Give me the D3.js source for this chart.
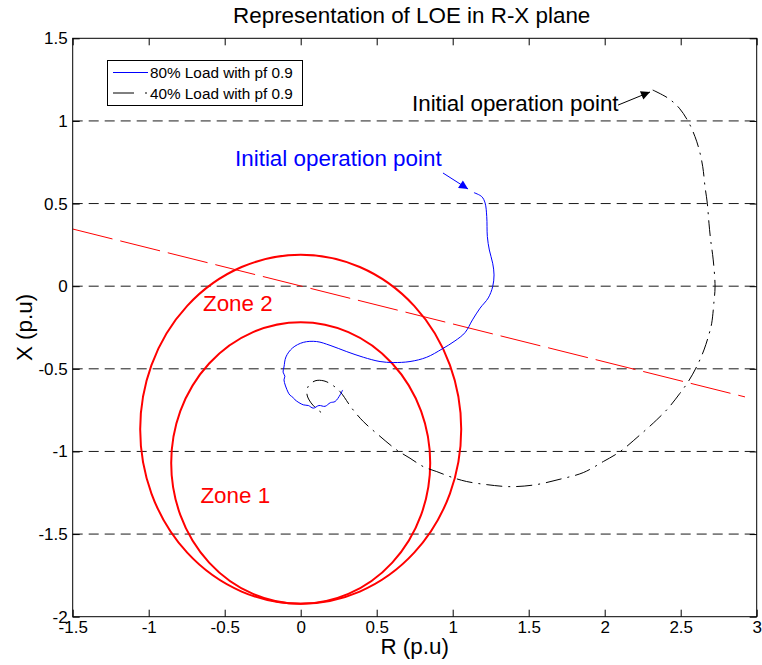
<!DOCTYPE html>
<html lang="en">
<head>
<meta charset="UTF-8">
<title>Representation of LOE in R-X plane</title>
<script src="https://d3js.org/d3.v7.min.js"></script>
<style>
    body { margin: 0; background: #fff; }
    svg text { font-family: 'Liberation Sans', Arial, sans-serif; }
</style>
</head>
<body>
<svg id="chart" width="762" height="665"></svg>
<script>
// values, R and X in p.u.
const xTicks = [-1.5, -1, -0.5, 0, 0.5, 1, 1.5, 2, 2.5, 3];
const yTicks = [-2, -1.5, -1, -0.5, 0, 0.5, 1, 1.5];
const gridY = [-1.5, -1, -0.5, 0, 0.5, 1];

const seriesNames = ["80% Load with pf 0.9", "40% Load with pf 0.9"];

// 80% load trajectory (blue)
const load80R = [1.140, 1.191, 1.213, 1.224, 1.228, 1.241, 1.263, 1.272, 1.263, 1.234, 1.180, 1.130,
    1.081, 1.015, 0.930, 0.829, 0.719, 0.609, 0.522, 0.412, 0.303, 0.193, 0.105, 0.017, -0.054,
    -0.097, -0.110, -0.116, -0.104, -0.110, -0.084, -0.070, -0.052, -0.037, 0.017, 0.050, 0.083,
    0.120, 0.160, 0.195, 0.226, 0.259, 0.276];
const load80X = [0.566, 0.542, 0.504, 0.421, 0.300, 0.219, 0.139, 0.068, -0.003, -0.071, -0.133, -0.204,
    -0.281, -0.331, -0.380, -0.430, -0.456, -0.462, -0.456, -0.430, -0.396, -0.358, -0.335, -0.340, -0.374,
    -0.428, -0.489, -0.520, -0.545, -0.567, -0.640, -0.660, -0.672, -0.688, -0.718, -0.722, -0.738,
    -0.722, -0.727, -0.705, -0.698, -0.658, -0.628];

// 40% load trajectory (black dash-dot)
const load40R = [2.316, 2.418, 2.491, 2.550, 2.594, 2.622, 2.645, 2.660, 2.675, 2.686, 2.697, 2.714,
    2.726, 2.719, 2.704, 2.688, 2.653, 2.605, 2.550, 2.495, 2.418, 2.342, 2.232, 2.101, 1.991, 1.859,
    1.706, 1.541, 1.377, 1.226, 1.092, 0.993, 0.895, 0.807, 0.719, 0.632, 0.511, 0.412, 0.336, 0.259,
    0.206, 0.153, 0.094, 0.048, 0.042, 0.068, 0.114, 0.166];
const load40X = [1.187, 1.137, 1.077, 0.995, 0.905, 0.824, 0.723, 0.602, 0.502, 0.381, 0.280, 0.159,
    -0.003, -0.093, -0.224, -0.285, -0.386, -0.487, -0.577, -0.648, -0.738, -0.809, -0.900, -1.001,
    -1.061, -1.128, -1.168, -1.202, -1.213, -1.201, -1.182, -1.156, -1.122, -1.092, -1.041, -0.991,
    -0.900, -0.819, -0.738, -0.638, -0.597, -0.573, -0.573, -0.609, -0.658, -0.706, -0.749, -0.785];

// mho zones
const zoneNames = ["Zone 1", "Zone 2"];
const zoneCentreR = [0.0, 0.0];
const zoneCentreX = [-1.07, -0.866];
const zoneRadius = [0.852, 1.056];
const zoneLabelR = [-0.66, -0.643];
const zoneLabelX = [-1.311, -0.150];

// LOE blinder line
const blinderR = [-1.5, 2.923];
const blinderX = [0.346, -0.67];

// "Initial operation point" notes: text position, arrow tail, arrow head
const noteText = ["Initial operation point", "Initial operation point"];
const noteColor = ["#0000ff", "#000000"];
const noteTextR = [-0.432, 0.732];
const noteTextX = [0.728, 1.060];
const noteTailR = [0.936, 2.088];
const noteTailX = [0.685, 1.096];
const noteHeadR = [1.101, 2.298];
const noteHeadX = [0.588, 1.175];

document.addEventListener('DOMContentLoaded', () => {
    const svg = d3.select("#chart");
    const width = 762, height = 665;
    const margin = { top: 38.3, right: 5.3, bottom: 48.3, left: 72.7 };
    const bigFont = 22.4;

    const x = d3.scaleLinear().domain([-1.5, 3]).range([margin.left, width - margin.right]);
    const y = d3.scaleLinear().domain([-2, 1.5]).range([height - margin.bottom, margin.top]);

    const defs = svg.append("defs");
    defs.append("clipPath").attr("id", "plot-clip")
        .append("rect")
        .attr("x", x(-1.5)).attr("y", y(1.5))
        .attr("width", x(3) - x(-1.5)).attr("height", y(-2) - y(1.5));
    noteColor.forEach((c, i) => {
        defs.append("marker").attr("id", "head" + i)
            .attr("viewBox", "0 -5 10 10").attr("refX", 10).attr("refY", 0)
            .attr("markerWidth", 12).attr("markerHeight", 9)
            .attr("markerUnits", "userSpaceOnUse")
            .attr("orient", "auto")
            .append("path").attr("d", "M0,-5L10,0L0,5Z").attr("fill", c);
    });

    svg.append("rect").attr("width", width).attr("height", height).attr("fill", "#fff");

    // horizontal dashed grid
    svg.append("g").selectAll("line").data(gridY).enter().append("line")
        .attr("x1", x(-1.5)).attr("x2", x(3))
        .attr("y1", d => y(d)).attr("y2", d => y(d))
        .attr("stroke", "#1a1a1a").attr("stroke-width", 1)
        .attr("stroke-dasharray", "10,6");

    const plot = svg.append("g").attr("clip-path", "url(#plot-clip)");

    // zones
    plot.selectAll(".zone").data(zoneNames).enter().append("ellipse")
        .attr("class", "zone")
        .attr("cx", (d, i) => x(zoneCentreR[i]))
        .attr("cy", (d, i) => y(zoneCentreX[i]))
        .attr("rx", (d, i) => x(zoneRadius[i]) - x(0))
        .attr("ry", (d, i) => y(0) - y(zoneRadius[i]))
        .attr("fill", "none").attr("stroke", "#ff0000").attr("stroke-width", 2);

    // blinder line
    plot.append("path")
        .datum(d3.zip(blinderR, blinderX))
        .attr("d", d3.line().x(d => x(d[0])).y(d => y(d[1])))
        .attr("fill", "none").attr("stroke", "#ff0000").attr("stroke-width", 1)
        .attr("stroke-dasharray", "41,8");

    const curve = d3.line().x(d => x(d[0])).y(d => y(d[1])).curve(d3.curveCatmullRom.alpha(0.5));

    plot.append("path")
        .datum(d3.zip(load40R, load40X))
        .attr("d", curve)
        .attr("fill", "none").attr("stroke", "#000").attr("stroke-width", 1)
        .attr("stroke-dasharray", "16,6,2,6");

    plot.append("path")
        .datum(d3.zip(load80R, load80X))
        .attr("d", curve)
        .attr("fill", "none").attr("stroke", "#0000ff").attr("stroke-width", 1);

    // zone labels
    svg.selectAll(".zone-label").data(zoneNames).enter().append("text")
        .attr("class", "zone-label")
        .attr("x", (d, i) => x(zoneLabelR[i]))
        .attr("y", (d, i) => y(zoneLabelX[i]))
        .attr("fill", "#ff0000").attr("font-size", bigFont)
        .text(d => d);

    // annotations
    noteText.forEach((t, i) => {
        svg.append("line")
            .attr("x1", x(noteTailR[i])).attr("y1", y(noteTailX[i]))
            .attr("x2", x(noteHeadR[i])).attr("y2", y(noteHeadX[i]))
            .attr("stroke", noteColor[i]).attr("stroke-width", 1)
            .attr("marker-end", "url(#head" + i + ")");
        svg.append("text")
            .attr("x", x(noteTextR[i])).attr("y", y(noteTextX[i]))
            .attr("fill", noteColor[i]).attr("font-size", bigFont)
            .text(t);
    });

    // axes box and ticks
    const tickLen = 7;
    const fmt = d => String(d);
    svg.append("rect")
        .attr("x", x(-1.5)).attr("y", y(1.5))
        .attr("width", x(3) - x(-1.5)).attr("height", y(-2) - y(1.5))
        .attr("fill", "none").attr("stroke", "#000").attr("stroke-width", 1);

    const bottom = svg.append("g").attr("transform", `translate(0,${y(-2)})`)
        .call(d3.axisBottom(x).tickValues(xTicks).tickSizeInner(-tickLen).tickSizeOuter(0).tickPadding(4)
            .tickFormat(fmt));
    const left = svg.append("g").attr("transform", `translate(${x(-1.5)},0)`)
        .call(d3.axisLeft(y).tickValues(yTicks).tickSizeInner(-tickLen).tickSizeOuter(0).tickPadding(5)
            .tickFormat(fmt));
    svg.append("g").attr("transform", `translate(0,${y(1.5)})`)
        .call(d3.axisTop(x).tickValues(xTicks).tickSizeInner(-tickLen).tickSizeOuter(0).tickFormat(""));
    svg.append("g").attr("transform", `translate(${x(3)},0)`)
        .call(d3.axisRight(y).tickValues(yTicks).tickSizeInner(-tickLen).tickSizeOuter(0).tickFormat(""));

    svg.selectAll(".domain").remove();
    svg.selectAll(".tick line").attr("stroke", "#000");
    bottom.selectAll("text").attr("font-size", 17).attr("fill", "#000")
        .attr("font-family", "'Liberation Sans', Arial, sans-serif").attr("dy", "0.72em");
    left.selectAll("text").attr("font-size", 17).attr("fill", "#000")
        .attr("font-family", "'Liberation Sans', Arial, sans-serif");

    // titles
    svg.append("text")
        .attr("x", (x(-1.5) + x(3)) / 2 - 3).attr("y", 23)
        .attr("text-anchor", "middle").attr("font-size", bigFont)
        .text("Representation of LOE in R-X plane");
    svg.append("text")
        .attr("x", (x(-1.5) + x(3)) / 2).attr("y", 654)
        .attr("text-anchor", "middle").attr("font-size", bigFont)
        .text("R (p.u)");
    svg.append("text")
        .attr("transform", `translate(32,${(y(-2) + y(1.5)) / 2}) rotate(-90)`)
        .attr("text-anchor", "middle").attr("font-size", bigFont)
        .text("X (p.u)");

    // legend
    const legend = svg.append("g");
    legend.append("rect")
        .attr("x", 107.5).attr("y", 60.5).attr("width", 195).attr("height", 45)
        .attr("fill", "#fff").attr("stroke", "#000").attr("stroke-width", 1);
    const legendColor = ["#0000ff", "#000"];
    const legendDash = [null, "21,11,2,20"];
    seriesNames.forEach((name, i) => {
        const ly = 72.5 + i * 20.5;
        legend.append("line")
            .attr("x1", 113).attr("x2", 148).attr("y1", ly).attr("y2", ly)
            .attr("stroke", legendColor[i]).attr("stroke-width", 1)
            .attr("stroke-dasharray", legendDash[i]);
        legend.append("text")
            .attr("x", 150).attr("y", ly + 5.5)
            .attr("font-size", 15.3)
            .text(name);
    });
});
</script>
</body>
</html>
